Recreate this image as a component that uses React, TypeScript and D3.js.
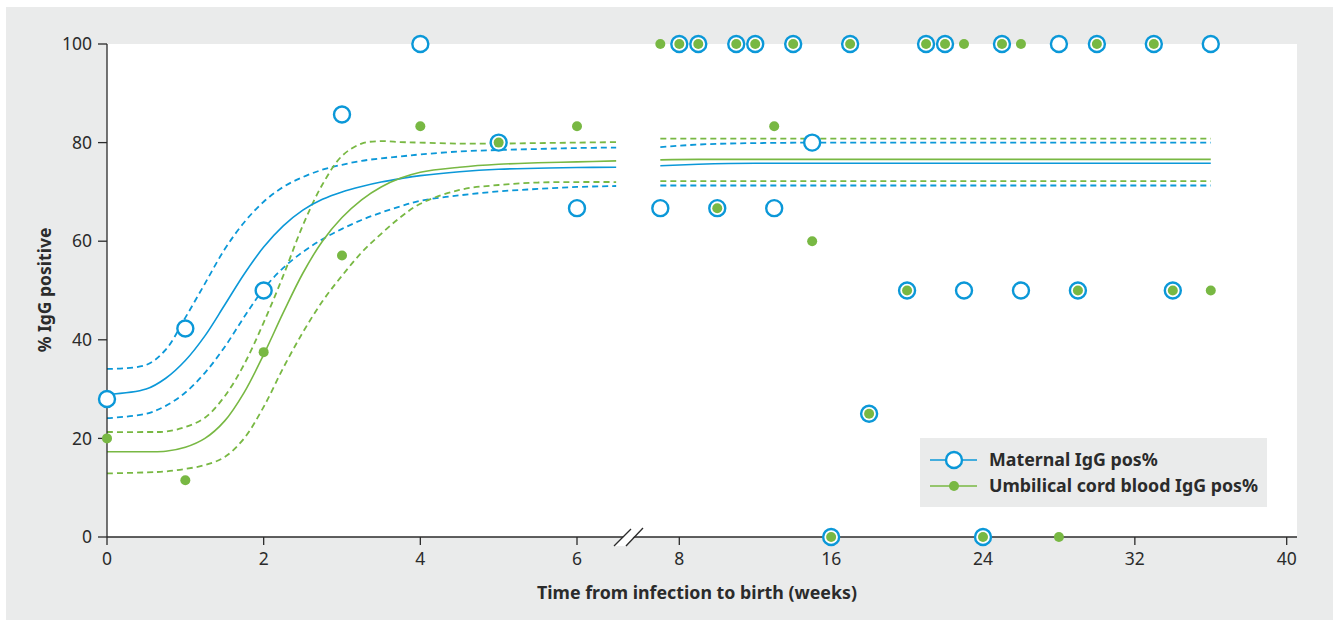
import React from "react";
import * as d3 from "d3";

// observed points, first part of the axis (weeks 0-6)
const weeksA = [0, 1, 2, 3, 4, 5, 6];
const maternalA = [28, 42.3, 50, 85.7, 100, 80, 66.7];
const cordA = [20, 11.5, 37.5, 57.1, 83.3, 80, 83.3];

// observed points, second part of the axis (weeks 7-36)
const weeksB = [7, 8, 9, 10, 11, 12, 13, 14, 15, 16, 17, 18, 20, 21, 22, 23, 24, 25, 26, 28, 29, 30, 33, 34, 36];
const maternalB = [66.7, 100, 100, 66.7, 100, 100, 66.7, 100, 80, 0, 100, 25, 50, 100, 100, 50, 0, 100, 50, 100, 50, 100, 100, 50, 100];
const cordB = [100, 100, 100, 66.7, 100, 100, 83.3, 100, 60, 0, 100, 25, 50, 100, 100, 100, 0, 100, 100, 0, 50, 100, 100, 50, 50];

// fitted curves, weeks 0-6.5
const fitWeeksA = [0, 0.5, 0.75, 1, 1.25, 1.5, 1.75, 2, 2.25, 2.5, 2.75, 3, 3.25, 3.5, 3.75, 4, 4.5, 5, 5.5, 6, 6.5];
const maternalFitA = [28.9, 30.0, 32.2, 35.8, 40.8, 47.0, 53.3, 58.8, 63.1, 66.3, 68.5, 70.0, 71.1, 72.0, 72.7, 73.3, 74.1, 74.6, 74.8, 74.95, 75.0];
const maternalHiA = [34.1, 34.9, 38.0, 44.5, 51.4, 58.3, 63.8, 68.0, 71.0, 73.0, 74.5, 75.5, 76.3, 76.8, 77.2, 77.6, 78.2, 78.5, 78.7, 78.9, 79.0];
const maternalLoA = [24.1, 25.0, 26.6, 29.3, 33.3, 38.5, 44.6, 50.3, 54.6, 57.8, 60.4, 62.5, 64.3, 65.8, 67.1, 68.2, 69.3, 70.1, 70.6, 71.0, 71.2];
const cordFitA = [17.3, 17.3, 17.4, 18.2, 20.0, 23.5, 29.3, 37.0, 45.5, 53.5, 60.0, 64.8, 68.4, 71.0, 72.8, 74.0, 75.0, 75.6, 75.9, 76.1, 76.3];
const cordHiA = [21.3, 21.3, 21.4, 22.3, 24.2, 28.5, 35.0, 43.5, 53.0, 63.2, 71.5, 77.3, 79.8, 80.3, 80.1, 80.0, 79.8, 79.8, 79.9, 80.0, 80.1];
const cordLoA = [12.9, 13.1, 13.3, 13.8, 14.6, 16.2, 20.0, 26.4, 34.3, 41.5, 47.8, 53.0, 57.7, 61.5, 64.9, 67.6, 70.4, 71.4, 71.9, 72.0, 72.0];

// fitted curves, weeks 7-36
const fitWeeksB = [7, 9, 12, 16, 24, 36];
const maternalFitB = [75.3, 75.6, 75.8, 75.8, 75.8, 75.8];
const maternalHiB = [79.1, 79.6, 79.9, 80.0, 80.0, 80.0];
const maternalLoB = [71.3, 71.3, 71.3, 71.3, 71.3, 71.3];
const cordFitB = [76.5, 76.6, 76.6, 76.6, 76.6, 76.6];
const cordHiB = [80.8, 80.8, 80.8, 80.8, 80.8, 80.8];
const cordLoB = [72.2, 72.2, 72.2, 72.2, 72.2, 72.2];

const yTicks = [0, 20, 40, 60, 80, 100];
const xTicksA = [0, 2, 4, 6];
const xTicksB = [8, 16, 24, 32, 40];

const legendLabels = ["Maternal IgG pos%", "Umbilical cord blood IgG pos%"];

const BLUE = "#0b98d8";
const GREEN = "#78b843";
const GRAY = "#eaebeb";
const INK = "#2b2b2b";
const FONT = "'Noto Sans', 'Open Sans', sans-serif";

export default function App() {
  const W = 1333, H = 632;
  const plot = { left: 107, top: 44, right: 1297, bottom: 537 };

  const y = d3.scaleLinear().domain([0, 100]).range([plot.bottom, plot.top]);
  const xA = d3.scaleLinear().domain([0, 6]).range([107, 577]);
  const xB = d3.scaleLinear().domain([8, 40]).range([679.3, 1286.7]);

  const lineA = (vals: number[]) =>
    d3.line<number>().x((_, i) => xA(fitWeeksA[i])).y((d) => y(d)).curve(d3.curveCatmullRom.alpha(0.5))(vals) || "";
  const lineB = (vals: number[]) =>
    d3.line<number>().x((_, i) => xB(fitWeeksB[i])).y((d) => y(d)).curve(d3.curveMonotoneX)(vals) || "";

  const fits = [
    { a: maternalHiA, b: maternalHiB, c: BLUE, dash: "6,4" },
    { a: maternalLoA, b: maternalLoB, c: BLUE, dash: "6,4" },
    { a: cordHiA, b: cordHiB, c: GREEN, dash: "6,4" },
    { a: cordLoA, b: cordLoB, c: GREEN, dash: "6,4" },
    { a: maternalFitA, b: maternalFitB, c: BLUE, dash: "" },
    { a: cordFitA, b: cordFitB, c: GREEN, dash: "" },
  ];

  const circles = [
    ...weeksA.map((w, i) => ({ x: xA(w), v: maternalA[i] })),
    ...weeksB.map((w, i) => ({ x: xB(w), v: maternalB[i] })),
  ];
  const dots = [
    ...weeksA.map((w, i) => ({ x: xA(w), v: cordA[i] })),
    ...weeksB.map((w, i) => ({ x: xB(w), v: cordB[i] })),
  ];

  const tickFont = { fontFamily: FONT, fontSize: 17.5, fill: INK };

  return (
    <svg width={W} height={H} style={{ position: "absolute", left: 0, top: 0 }}>
      <rect x={0} y={0} width={W} height={H} fill="#fff" />
      <rect x={6} y={7} width={W - 6} height={613} fill={GRAY} />
      <rect x={plot.left} y={plot.top} width={plot.right - plot.left} height={plot.bottom - plot.top} fill="#fff" />

      {/* fitted curves */}
      {fits.map((f, i) => (
        <g key={i} fill="none" stroke={f.c} strokeWidth={f.dash ? 1.8 : 1.6} strokeDasharray={f.dash || undefined}>
          <path d={lineA(f.a)} />
          <path d={lineB(f.b)} />
        </g>
      ))}

      {/* y axis */}
      <line x1={plot.left} x2={plot.left} y1={plot.top} y2={plot.bottom} stroke={INK} strokeWidth={1.3} />
      {yTicks.map((t) => (
        <g key={t}>
          <line x1={98} x2={plot.left} y1={y(t)} y2={y(t)} stroke={INK} strokeWidth={1.3} />
          <text x={92} y={y(t)} dy="0.35em" textAnchor="end" {...tickFont}>{t}</text>
        </g>
      ))}

      {/* x axis with break */}
      <line x1={plot.left} x2={plot.right} y1={plot.bottom} y2={plot.bottom} stroke={INK} strokeWidth={1.3} />
      {xTicksA.map((t) => (
        <g key={"a" + t}>
          <line x1={xA(t)} x2={xA(t)} y1={plot.bottom} y2={plot.bottom + 8} stroke={INK} strokeWidth={1.3} />
          <text x={xA(t)} y={565} textAnchor="middle" {...tickFont}>{t}</text>
        </g>
      ))}
      {xTicksB.map((t) => (
        <g key={"b" + t}>
          <line x1={xB(t)} x2={xB(t)} y1={plot.bottom} y2={plot.bottom + 8} stroke={INK} strokeWidth={1.3} />
          <text x={xB(t)} y={565} textAnchor="middle" {...tickFont}>{t}</text>
        </g>
      ))}
      <polygon points="615,546 632,528 642,528 625,546" fill="#fff" />
      <line x1={614} y1={546} x2={631} y2={529} stroke={INK} strokeWidth={1.3} />
      <line x1={626} y1={546} x2={643} y2={528} stroke={INK} strokeWidth={1.3} />

      {/* observed points */}
      {circles.map((p, i) => (
        <circle key={"c" + i} cx={p.x} cy={y(p.v)} r={8} fill="#fff" stroke={BLUE} strokeWidth={2.4} />
      ))}
      {dots.map((p, i) => (
        <circle key={"d" + i} cx={p.x} cy={y(p.v)} r={5} fill={GREEN} />
      ))}

      {/* axis titles */}
      <text x={697} y={599} textAnchor="middle" fontFamily={FONT} fontSize={17.8} fontWeight="bold" fill={INK}>
        Time from infection to birth (weeks)
      </text>
      <text transform="translate(51,290) rotate(-90)" textAnchor="middle" fontFamily={FONT} fontSize={17.5} fontWeight="bold" fill={INK}>
        % IgG positive
      </text>

      {/* legend */}
      <rect x={920} y={438} width={347} height={69} fill={GRAY} />
      <line x1={930} x2={977} y1={460} y2={460} stroke={BLUE} strokeWidth={1.6} />
      <circle cx={954} cy={460} r={8} fill="#fff" stroke={BLUE} strokeWidth={2.4} />
      <line x1={930} x2={977} y1={486} y2={486} stroke={GREEN} strokeWidth={1.6} />
      <circle cx={954} cy={486} r={5} fill={GREEN} />
      {legendLabels.map((l, i) => (
        <text key={l} x={989} y={460 + i * 26} dy="0.35em" fontFamily={FONT} fontSize={17.8} fontWeight="bold" fill={INK}>
          {l}
        </text>
      ))}
    </svg>
  );
}
